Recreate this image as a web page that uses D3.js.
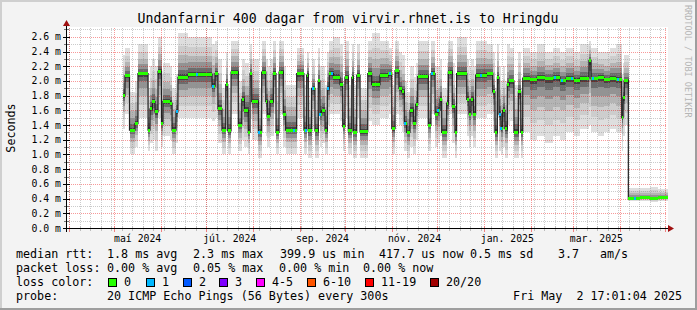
<!DOCTYPE html>
<html>
<head>
<meta charset="utf-8">
<script src="https://cdn.jsdelivr.net/npm/d3@7"></script>
<style>
body { margin: 0; background: #f3f3f3; }
svg { display: block; }
text { font-family: "DejaVu Sans Mono", monospace; fill: #000; }
</style>
</head>
<body>
<svg id="chart" width="697" height="310"></svg>
<script>
// ---- data (days counted from 1 Apr 2024, values in ms) ----
var runStart = [35.8,37.1,40.1,43.7,45.7,52.4,53.7,55.3,57.0,59.0,
    61.3,62.3,66.9,68.3,70.9,72.2,78.9,94.8,96.8,98.7,
    101.4,103.9,105.2,107.4,112.2,114.5,116.2,118.8,120.0,121.1,
    125.5,127.7,130.4,131.4,133.2,135.4,137.2,139.2,142.0,143.6,
    150.9,155.7,157.5,158.6,160.8,163.0,165.2,166.3,167.5,169.7,
    171.2,172.5,175.2,179.6,181.4,182.9,185.1,187.4,188.4,190.7,
    192.9,198.0,200.6,206.1,211.6,213.9,216.1,218.7,220.5,222.2,
    223.8,226.0,228.2,229.8,231.1,238.1,239.9,242.6,244.4,245.9,
    247.0,250.3,251.4,254.0,255.8,256.9,263.6,265.1,266.4,268.0,
    269.5,277.0,280.8,282.3,283.9,285.0,286.3,287.4,288.9,290.5,
    291.8,294.9,297.8,299.4,300.7,305.5,310.2,315.5,320.8,325.4,
    329.4,334.7,338.7,344.6,346.0,350.6,354.6,358.5,362.5,366.3,
    367.2,368.0,370.7,378.4,385.0,390.4];
var dataEnd = 396.7;

var medianMs = [1.80,2.07,1.33,1.42,2.10,1.33,1.62,1.72,1.58,2.13,
    1.42,1.72,1.70,1.33,1.58,2.05,2.09,1.93,2.10,1.62,
    1.33,1.95,1.32,2.12,1.40,1.75,1.60,1.30,2.10,1.72,
    1.30,2.12,1.72,1.52,1.72,2.10,1.30,2.12,1.55,1.33,
    2.10,1.33,2.08,1.32,1.90,1.32,2.00,1.55,1.60,1.33,
    1.90,2.10,2.05,1.95,1.38,2.05,1.32,2.05,1.30,2.08,
    1.31,2.10,1.95,2.08,2.10,1.35,2.14,1.90,1.85,1.42,
    1.30,1.60,1.42,1.68,2.06,1.40,2.10,1.55,1.60,1.75,
    1.30,1.70,2.12,1.65,1.30,2.10,1.75,1.55,1.75,1.55,
    2.08,2.10,1.85,1.30,2.05,1.55,1.35,1.60,1.35,1.95,
    2.00,1.30,1.85,1.30,2.04,2.02,2.05,2.03,2.05,2.00,
    2.04,2.01,2.04,2.28,2.03,2.05,2.02,2.04,2.02,1.50,
    1.77,2.00,0.40,0.41,0.40,0.41];

var smokeLow = [1.35,1.55,1.00,1.10,1.50,1.05,1.15,1.20,1.05,1.50,
    1.10,1.25,1.20,1.00,1.15,1.50,1.50,1.45,1.50,1.15,
    1.00,1.40,1.00,1.55,1.05,1.20,1.10,1.00,1.50,1.20,
    0.95,1.55,1.25,1.10,1.25,1.55,1.00,1.55,1.10,1.00,
    1.50,1.00,1.50,0.95,1.35,0.95,1.45,1.10,1.15,1.00,
    1.40,1.55,1.55,1.45,1.05,1.50,1.00,1.50,0.95,1.50,
    0.95,1.45,1.40,1.50,1.55,1.00,1.55,1.40,1.30,1.05,
    0.95,1.10,1.00,1.20,1.50,1.05,1.55,1.10,1.15,1.25,
    0.95,1.20,1.55,1.15,0.95,1.55,1.25,1.10,1.25,1.10,
    1.50,1.55,1.30,0.95,1.50,1.05,1.00,1.10,0.95,1.40,
    1.45,0.95,1.30,0.95,1.30,1.20,1.25,1.15,1.25,1.20,
    1.30,1.25,1.35,1.40,1.30,1.25,1.30,1.35,1.30,1.05,
    1.25,1.40,0.37,0.37,0.36,0.37];

var smokeHigh = [2.35,2.45,1.85,2.00,2.50,1.90,2.20,2.30,2.20,2.60,
    2.10,2.25,2.20,1.90,2.10,2.65,2.60,2.50,2.55,2.30,
    1.90,2.40,1.90,2.55,2.00,2.30,2.25,1.90,2.50,2.30,
    1.90,2.55,2.30,2.20,2.30,2.55,1.90,2.55,2.20,1.95,
    2.45,1.95,2.40,1.90,2.30,1.90,2.45,2.20,2.20,1.95,
    2.40,2.55,2.60,2.50,2.00,2.55,1.95,2.50,1.95,2.50,
    1.90,2.55,2.65,2.55,2.45,1.95,2.55,2.40,2.35,2.00,
    1.85,2.20,2.05,2.25,2.55,2.00,2.55,2.20,2.20,2.30,
    1.90,2.25,2.55,2.25,1.90,2.60,2.30,2.20,2.30,2.20,
    2.55,2.50,2.40,1.90,2.50,2.20,2.00,2.20,2.00,2.50,
    2.45,1.95,2.40,1.90,2.45,2.40,2.50,2.40,2.45,2.40,
    2.45,2.40,2.50,2.55,2.45,2.40,2.40,2.45,2.50,2.10,
    2.25,2.35,0.55,0.54,0.56,0.53];

// days where one of the 20 pings was lost
var lossOneDays = [71.5,84.8,95.5,126.2,149.1,156.8,161.5,166.5,171.5,174.5,
    212.5,222.5,240.3,244.8,273.0,285.5,286.6,322.0,326.7,333.3,347.3,363.8,375.1];

var yTickValues = [0,0.2,0.4,0.6,0.8,1.0,1.2,1.4,1.6,1.8,2.0,2.2,2.4,2.6];
var monthLabels = ["maí 2024","júl. 2024","sep. 2024","nóv. 2024","jan. 2025","mar. 2025"];
var monthLabelIndex = [1,3,5,7,9,11]; // months after Apr 2024

var lossNames = ["0","1","2","3","4-5","6-10","11-19","20/20"];
var lossColors = ["#26ff00","#00b8ff","#0059ff","#7e00ff","#ff00ff","#ff5500","#ff0000","#a10000"];

// ---- layout ----
var svg = d3.select("#chart");
var base = new Date(2024, 3, 1);
function dayToDate(d) { return new Date(base.getTime() + d * 864e5); }

var x = d3.scaleTime()
    .domain([new Date(2024, 3, 1), new Date(2025, 4, 1)])
    .range([69, 665]);
var y = d3.scaleLinear().domain([0, 2.72]).range([228, 28]);

var plotLeft = 67, plotRight = 667;

// background + 3d frame
svg.append("rect").attr("width", 697).attr("height", 310).attr("fill", "#f3f3f3");
svg.append("rect").attr("x", 0).attr("y", 0).attr("width", 697).attr("height", 2).attr("fill", "#cfcfcf");
svg.append("rect").attr("x", 0).attr("y", 0).attr("width", 2).attr("height", 310).attr("fill", "#cfcfcf");
svg.append("rect").attr("x", 0).attr("y", 308).attr("width", 697).attr("height", 2).attr("fill", "#9e9e9e");
svg.append("rect").attr("x", 695).attr("y", 0).attr("width", 2).attr("height", 310).attr("fill", "#9e9e9e");

// canvas
svg.append("rect").attr("x", plotLeft).attr("y", 27)
    .attr("width", plotRight - plotLeft + 1).attr("height", 201).attr("fill", "#ffffff");

// ---- smoke ----
var smokeLevels = [
    {f: 1.00, c: "#dedede"},
    {f: 0.72, c: "#cdcdcd"},
    {f: 0.50, c: "#b4b4b4"},
    {f: 0.32, c: "#939393"},
    {f: 0.17, c: "#6c6c6c"},
    {f: 0.07, c: "#424242"}
];
var runs = runStart.map(function(s, i) {
    return {
        x0: x(dayToDate(s)),
        x1: x(dayToDate(i < runStart.length - 1 ? runStart[i + 1] : dataEnd)),
        med: medianMs[i], lo: smokeLow[i], hi: smokeHigh[i]
    };
});

var smoke = svg.append("g").attr("shape-rendering", "crispEdges");
smokeLevels.forEach(function(lv) {
    smoke.append("g").attr("fill", lv.c)
        .selectAll("rect")
        .data(runs)
        .enter().append("rect")
        .attr("x", function(d) { return d.x0; })
        .attr("width", function(d) { return d.x1 - d.x0 + 0.3; })
        .attr("y", function(d) { return y(d.med + lv.f * (d.hi - d.med)); })
        .attr("height", function(d) {
            return y(d.med - lv.f * (d.med - d.lo)) - y(d.med + lv.f * (d.hi - d.med));
        });
});

// ---- grid (drawn over smoke like rrdtool) ----
var grid = svg.append("g").attr("shape-rendering", "crispEdges").attr("stroke-dasharray", "1,1");
var minorY = d3.range(1, 28).map(function(i) { return i / 10; }).filter(function(v, i) { return (i % 2) === 0; });
grid.selectAll(".minor-y").data(minorY).enter().append("line")
    .attr("x1", plotLeft).attr("x2", plotRight)
    .attr("y1", function(d) { return Math.round(y(d)) + 0.5; })
    .attr("y2", function(d) { return Math.round(y(d)) + 0.5; })
    .attr("stroke", "rgba(140,140,140,0.45)");

var startDate = x.invert(plotLeft), endDate = x.invert(plotRight);
var weeks = d3.timeMonday.range(startDate, endDate);
grid.selectAll(".minor-x").data(weeks).enter().append("line")
    .attr("x1", function(d) { return Math.round(x(d)) + 0.5; })
    .attr("x2", function(d) { return Math.round(x(d)) + 0.5; })
    .attr("y1", 28).attr("y2", 228)
    .attr("stroke", "rgba(140,140,140,0.45)");

grid.selectAll(".major-y").data(yTickValues.slice(1)).enter().append("line")
    .attr("x1", plotLeft).attr("x2", plotRight)
    .attr("y1", function(d) { return Math.round(y(d)) + 0.5; })
    .attr("y2", function(d) { return Math.round(y(d)) + 0.5; })
    .attr("stroke", "rgba(235,0,0,0.4)");

var months = d3.timeMonth.range(new Date(2024, 3, 1), new Date(2025, 4, 2));
grid.selectAll(".major-x").data(months).enter().append("line")
    .attr("x1", function(d) { return Math.round(x(d)) + 0.5; })
    .attr("x2", function(d) { return Math.round(x(d)) + 0.5; })
    .attr("y1", 28).attr("y2", 228)
    .attr("stroke", "rgba(235,0,0,0.4)");

// ---- median line + loss colour bars ----
var linePts = runs.map(function(d) { return [d.x0, y(d.med)]; });
linePts.push([runs[runs.length - 1].x1, y(runs[runs.length - 1].med)]);
svg.append("path")
    .attr("d", d3.line().curve(d3.curveStepAfter)(linePts))
    .attr("fill", "none")
    .attr("stroke", "#202020")
    .attr("stroke-width", 1.2);

svg.append("g").attr("fill", lossColors[0]).attr("shape-rendering", "crispEdges")
    .selectAll("rect").data(runs).enter().append("rect")
    .attr("x", function(d) { return d.x0; })
    .attr("width", function(d) { return Math.max(1.5, d.x1 - d.x0); })
    .attr("y", function(d) { return y(d.med) - 1.5; })
    .attr("height", 3);

var runBisect = d3.bisector(function(d) { return d; }).right;
svg.append("g").attr("fill", lossColors[1]).attr("shape-rendering", "crispEdges")
    .selectAll("rect").data(lossOneDays).enter().append("rect")
    .attr("x", function(d) { return x(dayToDate(d)) - 1; })
    .attr("width", 2)
    .attr("y", function(d) { return y(medianMs[runBisect(runStart, d) - 1]) - 1.5; })
    .attr("height", 3);

// ---- axes ----
var axis = svg.append("g").attr("shape-rendering", "crispEdges");
axis.selectAll(".ytick").data(yTickValues).enter().append("line")
    .attr("x1", 63).attr("x2", 70)
    .attr("y1", function(d) { return Math.round(y(d)) + 0.5; })
    .attr("y2", function(d) { return Math.round(y(d)) + 0.5; })
    .attr("stroke", "#000");
axis.selectAll(".ytickm").data(minorY).enter().append("line")
    .attr("x1", 64).attr("x2", 69)
    .attr("y1", function(d) { return Math.round(y(d)) + 0.5; })
    .attr("y2", function(d) { return Math.round(y(d)) + 0.5; })
    .attr("stroke", "#777");
axis.selectAll(".xtickm").data(weeks).enter().append("line")
    .attr("x1", function(d) { return Math.round(x(d)) + 0.5; })
    .attr("x2", function(d) { return Math.round(x(d)) + 0.5; })
    .attr("y1", 226).attr("y2", 231)
    .attr("stroke", "#bdbdbd");
axis.selectAll(".xtick").data(months).enter().append("line")
    .attr("x1", function(d) { return Math.round(x(d)) + 0.5; })
    .attr("x2", function(d) { return Math.round(x(d)) + 0.5; })
    .attr("y1", 226).attr("y2", 232)
    .attr("stroke", "#f08080");
axis.append("line").attr("x1", 63).attr("x2", 670).attr("y1", 228.5).attr("y2", 228.5).attr("stroke", "#000");
axis.append("line").attr("x1", 66.5).attr("x2", 66.5).attr("y1", 232).attr("y2", 25).attr("stroke", "#000");
svg.append("path").attr("d", "M668,225 L674,228.5 L668,232 Z").attr("fill", "#a01010");
svg.append("path").attr("d", "M63,26 L66.5,20 L70,26 Z").attr("fill", "#a01010");

svg.append("g").selectAll("text").data(yTickValues).enter().append("text")
    .attr("x", 61)
    .attr("y", function(d) { return y(d); })
    .attr("dy", "0.36em")
    .attr("text-anchor", "end")
    .attr("font-size", "9.8px")
    .text(function(d) { return d3.format(".1f")(d) + " m"; });

svg.append("g").selectAll("text").data(monthLabels).enter().append("text")
    .attr("x", function(d, i) {
        var m0 = d3.timeMonth.offset(new Date(2024, 3, 1), monthLabelIndex[i]);
        var m1 = d3.timeMonth.offset(m0, 1);
        return (x(m0) + x(m1)) / 2;
    })
    .attr("y", 241.5)
    .attr("text-anchor", "middle")
    .attr("font-size", "9.8px")
    .text(function(d) { return d; });

// ---- titles ----
svg.append("text").attr("x", 348).attr("y", 23).attr("text-anchor", "middle")
    .attr("font-size", "13.2px")
    .text("Undanfarnir 400 dagar from virvir.rhnet.is to Hringdu");
svg.append("text").attr("transform", "translate(15,128) rotate(-90)")
    .attr("text-anchor", "middle").attr("font-size", "11.7px").text("Seconds");
svg.append("text").attr("transform", "translate(685,5) rotate(90)")
    .attr("font-size", "8.5px").style("fill", "#b5b5b5")
    .text("RRDTOOL / TOBI OETIKER");

// ---- legend ----
var legendRows = [
    {y: 258, items: [[16,"median rtt:"],[107,"1.8 ms avg"],[193,"2.3 ms max"],[280,"399.9 us min"],
        [379,"417.7 us now"],[470,"0.5 ms sd"],[558,"3.7"],[600,"am/s"]]},
    {y: 272, items: [[16,"packet loss:"],[107,"0.00 % avg"],[193,"0.05 % max"],[279,"0.00 % min"],[363,"0.00 % now"]]},
    {y: 286, items: [[16,"loss color:"]]},
    {y: 300, items: [[16,"probe:"],[107,"20 ICMP Echo Pings (56 Bytes) every 300s"]]}
];
var legend = svg.append("g").attr("font-size", "11.7px");
legendRows.forEach(function(r) {
    legend.append("g").selectAll("text").data(r.items).enter().append("text")
        .attr("x", function(d) { return d[0]; })
        .attr("y", r.y)
        .text(function(d) { return d[1]; });
});
legend.append("text").attr("x", 682).attr("y", 300).attr("text-anchor", "end")
    .text("Fri May \u00a02 17:01:04 2025");

var swatchX = [108,146,183,219,256,307,365,430];
var sw = legend.append("g").selectAll("g").data(lossNames).enter().append("g");
sw.append("rect")
    .attr("x", function(d, i) { return swatchX[i] + 0.5; })
    .attr("y", 278.5).attr("width", 8).attr("height", 8)
    .attr("fill", function(d, i) { return lossColors[i]; })
    .attr("stroke", "#000").attr("shape-rendering", "crispEdges");
sw.append("text")
    .attr("x", function(d, i) { return swatchX[i] + 16; })
    .attr("y", 286)
    .text(function(d) { return d; });
</script>
</body>
</html>
